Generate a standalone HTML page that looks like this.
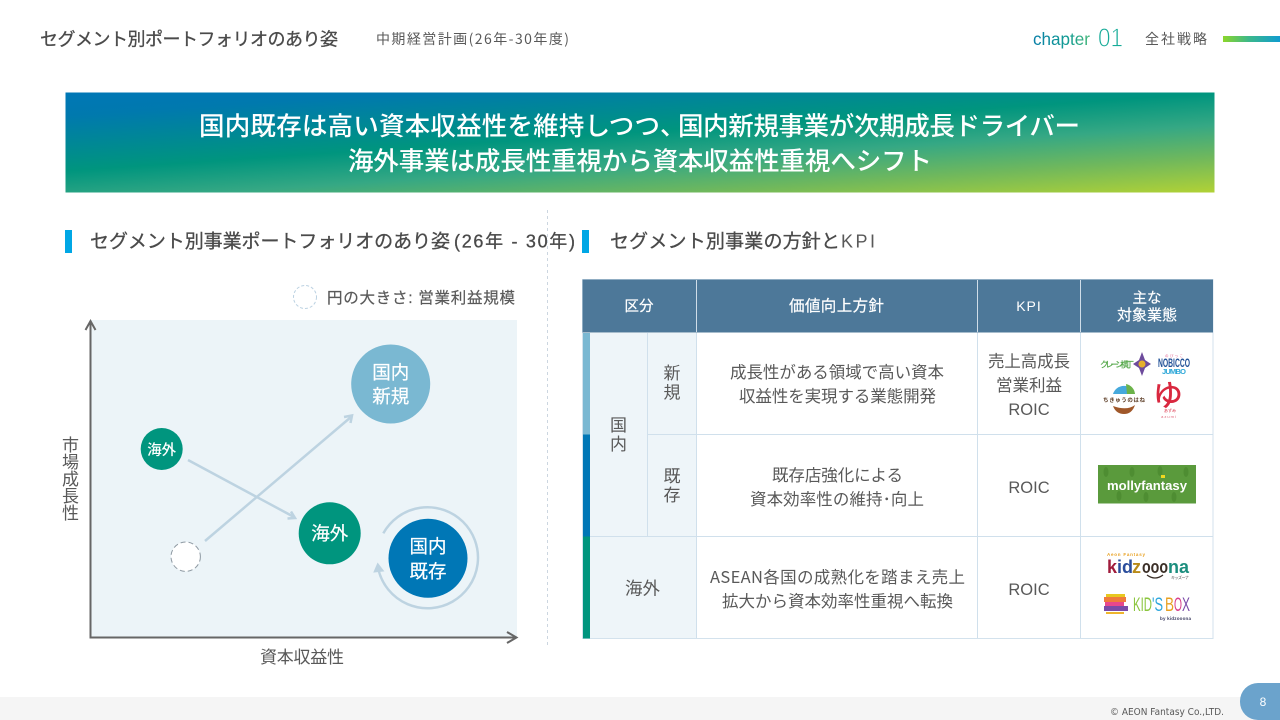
<!DOCTYPE html>
<html lang="ja">
<head>
<meta charset="utf-8">
<title>セグメント別ポートフォリオのあり姿</title>
<style>
html,body{margin:0;padding:0;background:#fff;width:1280px;height:720px;overflow:hidden}
svg{display:block}
text{font-family:"Liberation Sans","Noto Sans CJK JP",sans-serif}
.d{fill:#4a4a4a;stroke:#4a4a4a;stroke-width:.3px}
.m{fill:#595959}
.w{fill:#fff}
.mid{text-anchor:middle}
.j{font-family:"Noto Sans CJK JP","Liberation Sans",sans-serif}
</style>
</head>
<body>
<svg width="1280" height="720" viewBox="0 0 1280 720" xmlns="http://www.w3.org/2000/svg">
<defs>
<linearGradient id="ban" gradientUnits="userSpaceOnUse" x1="65" y1="93" x2="77" y2="270">
<stop offset="0" stop-color="#0077b6"/><stop offset=".13" stop-color="#0079ae"/><stop offset=".44" stop-color="#00957e"/><stop offset=".62" stop-color="#36a884"/><stop offset=".8" stop-color="#70b85c"/><stop offset="1" stop-color="#b2d235"/>
</linearGradient>
<linearGradient id="bar" x1="0" x2="1" y1="0" y2="0"><stop offset="0" stop-color="#8cd62a"/><stop offset=".45" stop-color="#3cb88a"/><stop offset="1" stop-color="#109cd0"/></linearGradient>
<linearGradient id="chap" gradientUnits="userSpaceOnUse" x1="1033" y1="0" x2="1091" y2="0"><stop offset="0" stop-color="#0a7fa8"/><stop offset=".6" stop-color="#129c94"/><stop offset="1" stop-color="#48b878"/></linearGradient>
</defs>

<!-- header -->
<text x="40" y="45.500" font-size="18" class="d" textLength="298">セグメント別ポートフォリオのあり姿</text>
<text x="376" y="44" font-size="14" class="m j" textLength="193">中期経営計画(26年-30年度)</text>
<text x="1033" y="45" font-size="17.5" fill="url(#chap)" textLength="57" lengthAdjust="spacingAndGlyphs">chapter</text>
<text x="1098" y="46.500" font-size="26" fill="#16ab98" stroke="#fff" stroke-width=".8" textLength="25" lengthAdjust="spacingAndGlyphs">01</text>
<text x="1145" y="44" font-size="14" class="m" textLength="62">全社戦略</text>
<rect x="1223" y="36" width="57" height="6" fill="url(#bar)"/>

<!-- banner -->
<rect x="65.5" y="92.5" width="1149" height="100" fill="url(#ban)"/>
<text x="199" y="135" font-size="25.5" font-weight="500" class="w" textLength="461">国内既存は高い資本収益性を維持しつつ</text>
<text x="660" y="135" font-size="25.5" font-weight="500" class="w">、</text>
<text x="678" y="135" font-size="25.5" font-weight="500" class="w" textLength="402">国内新規事業が次期成長ドライバー</text>
<text x="348" y="170" font-size="25.5" font-weight="500" class="w" textLength="584">海外事業は成長性重視から資本収益性重視へシフト</text>

<!-- section headings -->
<rect x="65" y="230" width="7" height="23" fill="#00a7e5"/>
<text x="90" y="247.500" font-size="19" class="d" textLength="360">セグメント別事業ポートフォリオのあり姿</text>
<text x="454" y="247.500" font-size="18" class="d" textLength="121">(26年 - 30年)</text>
<rect x="582" y="230" width="7" height="23" fill="#00a7e5"/>
<text x="610" y="247.500" font-size="19" class="d" textLength="230">セグメント別事業の方針と</text>
<text x="841" y="247.500" font-size="18" class="m" textLength="34">KPI</text>
<line x1="547.5" y1="210" x2="547.5" y2="645" stroke="#ccd6e0" stroke-width="1" stroke-dasharray="3 3"/>

<!-- legend -->
<circle cx="305" cy="297" r="11.5" fill="#fff" stroke="#bcd2e2" stroke-width="1" stroke-dasharray="3 2"/>
<text x="327" y="303" font-size="15.5" class="m" stroke="#595959" stroke-width=".2" textLength="188">円の大きさ: 営業利益規模</text>

<!-- chart -->
<rect x="90" y="320" width="427" height="318" fill="#ecf4f8"/>
<path d="M90.500 321V637.500H516" fill="none" stroke="#666" stroke-width="2"/>
<path d="M85.500 330L90.500 321L95.500 330M507 632L516.500 637.500L507 643" fill="none" stroke="#666" stroke-width="2"/>

<g fill="none" stroke="#bdd3e1" stroke-width="2.500">
<path d="M205 541L351 417"/>
<path d="M344 417L352 415.500L350.500 423"/>
<path d="M188 460L294 517"/>
<path d="M287.500 518.500L295 518L291 511.500"/>
<path d="M383.300 533.300A50.500 50.500 0 1 1 378.500 570"/>
</g>
<path d="M377.700 563.500L374 572L383.500 571Z" fill="#bdd3e1" stroke="#bdd3e1" stroke-width="1"/>

<circle cx="390.7" cy="384" r="39.500" fill="#7ab8d2"/>
<circle cx="161.7" cy="449" r="21" fill="#00957e"/>
<circle cx="329.7" cy="533.300" r="31" fill="#00957e"/>
<circle cx="428" cy="558.300" r="39.500" fill="#0077b6"/>
<circle cx="185.7" cy="556.700" r="14.700" fill="#fff" stroke="#8f9aa3" stroke-width="1" stroke-dasharray="5 3"/>

<text x="390.7" y="379" font-size="18.500" class="w mid" stroke="#fff" stroke-width=".2">国内</text>
<text x="390.7" y="403" font-size="18.500" class="w mid" stroke="#fff" stroke-width=".2">新規</text>
<text x="161.7" y="455" font-size="14.500" font-weight="500" class="w mid">海外</text>
<text x="329.7" y="540" font-size="18.500" class="w mid" stroke="#fff" stroke-width=".2">海外</text>
<text x="428" y="553" font-size="18.500" class="w mid" stroke="#fff" stroke-width=".2">国内</text>
<text x="428" y="578" font-size="18.500" class="w mid" stroke="#fff" stroke-width=".2">既存</text>

<g font-size="17" class="m">
<text x="70.5" y="451" class="mid">市</text>
<text x="70.5" y="468" class="mid">場</text>
<text x="70.5" y="485" class="mid">成</text>
<text x="70.5" y="502" class="mid">長</text>
<text x="70.5" y="519" class="mid">性</text>
</g>
<text x="260" y="663" font-size="17" class="m" textLength="84">資本収益性</text>

<!-- table -->
<rect x="582.5" y="279.5" width="630.5" height="359" fill="#fff" stroke="#d3e2ed"/>
<rect x="582.5" y="279.5" width="630.5" height="53" fill="#4d7899"/>
<rect x="590" y="333" width="107" height="305" fill="#eef5f9"/>
<rect x="583" y="333" width="7" height="101.500" fill="#7ab8d2"/>
<rect x="583" y="434.500" width="7" height="102" fill="#0077b6"/>
<rect x="583" y="536.500" width="7" height="102" fill="#00957e"/>
<g stroke="#d0e0ec" stroke-width="1">
<path d="M647.500 333V536M647 434.500H1213M590 536.500H1213M696.500 333V638M977.500 333V638M1080.500 333V638"/>
</g>
<path d="M696.500 280V332M977.500 280V332M1080.500 280V332" stroke="#cfdde8" stroke-width="1"/>

<text x="639" y="311" font-size="14.500" class="w mid" stroke="#fff" stroke-width=".2">区分</text>
<text x="789" y="311" font-size="15.500" class="w" stroke="#fff" stroke-width=".2" textLength="95">価値向上方針</text>
<text x="1029" y="311" font-size="14" class="w mid" letter-spacing="1">KPI</text>
<text x="1147" y="303" font-size="14.500" class="w mid" stroke="#fff" stroke-width=".2">主な</text>
<text x="1147" y="320" font-size="15" class="w mid" stroke="#fff" stroke-width=".2">対象業態</text>

<g font-size="16.500" class="m">
<text x="672" y="379" font-size="17" class="mid">新</text>
<text x="672" y="398.500" font-size="17" class="mid">規</text>
<text x="618.5" y="431" font-size="17" class="mid">国</text>
<text x="618.5" y="450" font-size="17" class="mid">内</text>
<text x="672" y="482" font-size="17" class="mid">既</text>
<text x="672" y="501" font-size="17" class="mid">存</text>
<text x="625" y="594.500" font-size="17.500">海外</text>

<text x="730" y="378" textLength="214">成長性がある領域で高い資本</text>
<text x="739" y="402" textLength="197">収益性を実現する業態開発</text>
<text x="772" y="481" textLength="131">既存店強化による</text>
<text x="750" y="505" textLength="174">資本効率性の維持･向上</text>
<text x="710" y="583" class="j" textLength="255">ASEAN各国の成熟化を踏まえ売上</text>
<text x="722" y="607" textLength="231">拡大から資本効率性重視へ転換</text>

<text x="988" y="367" textLength="82">売上高成長</text>
<text x="996" y="391" textLength="66">営業利益</text>
<text x="1029" y="415" class="mid">ROIC</text>
<text x="1029" y="493" class="mid">ROIC</text>
<text x="1029" y="595" class="mid">ROIC</text>
</g>

<!-- logos: row 1 -->
<text x="1100" y="367.500" font-size="8.500" fill="#55a84a" stroke="#55a84a" stroke-width=".2" textLength="34">クレーン横丁</text>
<path d="M1142 352L1145 360L1151 364L1145 368L1142 376L1139 368L1133 364L1139 360Z" fill="#6d4b9c"/>
<circle cx="1142" cy="364" r="3.500" fill="#e5b02c"/>
<text x="1158" y="367" font-size="12" font-weight="700" fill="#1f4f96" textLength="32" lengthAdjust="spacingAndGlyphs">NOBICCO</text>
<text x="1162" y="374" font-size="7.500" font-weight="700" fill="#2fa8d8" textLength="24">JUMBO</text>
<text x="1165" y="357" font-size="3.500" fill="#e05a8a" textLength="18">のびっこ</text>

<path d="M1113 394A11.500 11.500 0 0 1 1135 394Z" fill="#46a9dc"/>
<path d="M1126 384A11 11 0 0 1 1135 394H1127Z" fill="#6cb34a"/>
<text x="1103" y="402" font-size="5.500" font-weight="700" fill="#5a3a22" textLength="42">ちきゅうのはね</text>
<path d="M1113 406Q1116 414 1124 414Q1132 414 1135 405Q1127 411 1113 406Z" fill="#a0582a"/>
<text x="1168" y="406" font-size="30" font-weight="500" fill="#d9283f" class="mid">ゆ</text>
<text x="1170" y="412" font-size="4" fill="#d9283f" class="mid">あずみ</text>
<text x="1169" y="418" font-size="4" fill="#e0687c" class="mid" letter-spacing="1">azumi</text>

<!-- logos: row 2 -->
<rect x="1098" y="465" width="98" height="38.500" fill="#5a9a3c"/>
<g fill="#4c8a30" opacity=".8">
<ellipse cx="1106" cy="472" rx="2.500" ry="5"/><ellipse cx="1119" cy="496" rx="2.500" ry="5"/><ellipse cx="1132" cy="472" rx="2.500" ry="5"/><ellipse cx="1146" cy="497" rx="2.500" ry="5"/><ellipse cx="1160" cy="471" rx="2.500" ry="5"/><ellipse cx="1174" cy="497" rx="2.500" ry="5"/><ellipse cx="1186" cy="472" rx="2.500" ry="5"/>
</g>
<text x="1107" y="490" font-size="13" font-weight="700" class="w" textLength="80" lengthAdjust="spacingAndGlyphs">mollyfantasy</text>
<rect x="1161" y="475" width="4" height="3" fill="#f0d820"/>

<!-- logos: row 3 -->
<text x="1107" y="556" font-size="4.500" font-weight="700" fill="#e8a020" textLength="38">Aeon Fantasy</text>
<g font-size="18" font-weight="700">
<text x="1107" y="573" fill="#a01c3c" textLength="11">k</text>
<text x="1117" y="573" fill="#2a4d9c">i</text>
<text x="1122" y="573" fill="#2a4d9c" textLength="10">d</text>
<text x="1132" y="573" fill="#b88a18" textLength="10">z</text>
<text x="1142" y="573" fill="#3c3028" textLength="26" lengthAdjust="spacingAndGlyphs">ooo</text>
<text x="1168" y="573" fill="#1c8e7e" textLength="21" lengthAdjust="spacingAndGlyphs">na</text>
</g>
<path d="M1147 575Q1155 581 1163 575" fill="none" stroke="#3c3028" stroke-width="1.300"/>
<text x="1171" y="579" font-size="4" fill="#444" textLength="18">キッズーナ</text>

<rect x="1106" y="594" width="19" height="3" fill="#e8c820"/>
<rect x="1104" y="597" width="22" height="5" fill="#ef7b3c"/>
<rect x="1105" y="602" width="19" height="4" fill="#e8488c"/>
<rect x="1104" y="606" width="24" height="5" fill="#7a4ba8"/>
<rect x="1106" y="612" width="18" height="2" fill="#eeb52c"/>
<g font-size="19" font-weight="400">
<text x="1133" y="611" fill="#8cc63f" textLength="19" lengthAdjust="spacingAndGlyphs">KID</text>
<text x="1152" y="611" fill="#2da6dc" textLength="11" lengthAdjust="spacingAndGlyphs">'S</text>
<text x="1165" y="611" fill="#e8a020" textLength="9" lengthAdjust="spacingAndGlyphs">B</text>
<text x="1174" y="611" fill="#d8408c" textLength="8" lengthAdjust="spacingAndGlyphs">O</text>
<text x="1182" y="611" fill="#7a4ba8" textLength="8" lengthAdjust="spacingAndGlyphs">X</text>
</g>
<text x="1160" y="620" font-size="4.500" font-weight="700" fill="#3c3c60" textLength="31">by kidzooona</text>

<!-- footer -->
<rect x="0" y="697" width="1280" height="23" fill="#f5f5f5"/>
<text x="1110" y="715" font-size="9.500" fill="#595959" style="font-family:'DejaVu Sans',sans-serif" textLength="114" lengthAdjust="spacingAndGlyphs">© AEON Fantasy Co.,LTD.</text>
<path d="M1280 683H1258A18 18 0 0 0 1240 701V702A18 18 0 0 0 1258 720H1280Z" fill="#6ba3cc"/>
<text x="1263" y="706" font-size="12" class="w mid">8</text>
</svg>
</body>
</html>
